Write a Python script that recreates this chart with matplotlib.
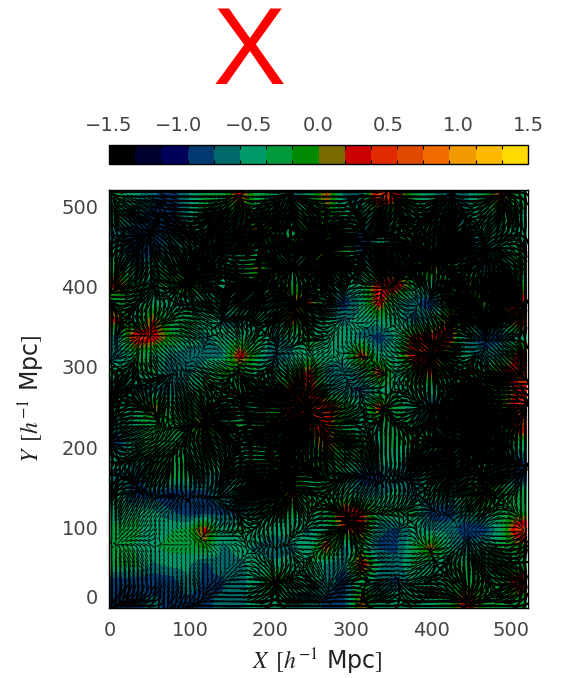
import numpy as np
import matplotlib
matplotlib.use("Agg")
import matplotlib.pyplot as plt
from matplotlib.collections import LineCollection
from matplotlib.colors import ListedColormap, BoundaryNorm

plt.rcParams['font.family'] = 'DejaVu Sans'
plt.rcParams['mathtext.fontset'] = 'stix'

W, H = 561, 678
BOX = 520

# field, tenths, top row first
field = [
    [-3,-5,-7,-9,-6,-3,-3, 3,-3,-4,-7,-4, 2,-6,-6, 6, 3,-3,-5,-8,-6,-3, 3,-3],
    [-3,-7,-8,-9,-6,-3,-2,-3,-3,-2,-3,-3,-1,-3,-6,-3,-4,-4,-3,-6,-6,-5,-3,-4],
    [-7,-8,-9,-7,-5,-5,-4,-3, 3,-2,-3, 1,-2,-2,-9,-5,-3,-2,-4,-3,-6,-5,-4,-5],
    [-5,-9,-9,-6,-5,-6,-8,-5,-4,-4,-1,-2, 2,-1,-9,-5,-3,-2,-3, 2,-5,-9,-5,-3],
    [-3,-6,-4,-3,-2,-3,-4,-4, 1,-3,-8,-6, 1,-3,-6,-3,-3,-3, 2,-2,-3,-7,-5,-3],
    [ 3,-3,-4,-3, 2,-3,-5,-5,-3,-2,-2,-3,-3,-5,-4, 4, 5,-3,-5,-3,-2,-1,-1,-2],
    [-3,-4,-4,-5,-5,-6,-5,-3,-2,-4, 1, 3,-6,-9,-5, 4,-5,-7,-9,-3, 2,-1, 1, 5],
    [ 3,-5, 2,-3,-2,-4,-6,-7,-5,-6, 3,-7,-5,-6,-5,-4,-4,-8,-5, 2,-1,-4,-5, 5],
    [-7, 5, 4,-1,-4,-6,-5,-4,-3,-6,-5,-2,-5,-5,-6,-9,-5, 3, 4, 4,-6,-9,-8,-5],
    [-7,-3,-4,-6,-7,-6,-6, 4,-3,-8,-6,-4,-5,-5, 3,-5,-4, 4, 4,-1,-5,-7,-6, 3],
    [-3,-4,-3,-7,-6,-5,-1,-3,-4,-5,-3, 3,-6,-7,-5, 3,-5,-1, 3,-3,-2,-3, 2, 5],
    [-6,-6,-7,-7,-5,-2,-3,-3,-3,-3, 4, 6,-5,-7,-8,-5,-4,-4,-5,-5,-3,-2,-2, 3],
    [-5,-4, 2,-3,-3,-3,-3,-6,-3,-2, 4, 5, 5,-1,-5, 3,-3,-5,-8,-5,-3,-1,-2, 5],
    [-6,-4,-3,-3,-2, 3,-2,-3,-3, 1, 2, 3, 3,-3,-5,-4,-3,-3,-3,-4,-1, 2,-2, 6],
    [-9,-4,-3,-3,-3,-4,-5,-5,-3,-3,-2,-2, 3,-2,-3,-4,-3,-3,-3,-2,-2,-2,-5,-3],
    [-4,-5,-3,-3,-3,-3,-4,-4,-3, 1,-2,-2,-1,-3,-4,-4,-5,-7,-4,-3,-3,-2,-5,-8],
    [-7,-8,-5,-3,-3,-6,-6,-5,-2,-2,-1,-3,-3,-5,-9,-9,-6,-7,-4,-3,-4,-2,-3,-9],
    [-4,-9,-8,-10,-9,-8,-6,-5,-4,-2, 3,-3,-2,-4,-6,-6,-5,-7,-4,-5,-3, 2,-3,-2],
    [-5,-4,-5,-7,-9,-9,-8,-8,-5,-3,-3,-4,-3, 4, 3,-3,-3,-3,-9,-9,-5,-4,-3,-2],
    [-3,-3,-5,-4,-3, 3,-5,-3,-4,-5,-5,-6,-4, 2, 3,-7,-8,-5,-6,-6,-9,-9,-4, 6],
    [-3,-4,-4,-3,-3,-1,-6,-5,-6,-7,-6,-5, 3,-6,-3,-8,-8,-3, 2,-5,-7,-5,-3,-1],
    [-3,-3,-6,-5,-5,-8,-6,-6,-5,-5,-5,-3,-6,-7, 5,-5,-7,-3,-5,-4,-3,-3,-2,-3],
    [-9,-9,-9,-9,-6,-8,-8,-6,-5, 3,-4,-5,-6,-9,-3,-7,-8,-5,-5,-3,-3,-3,-3, 5],
    [-9,-8,-7,-8,-8,-8,-7,-6,-5,-5,-6,-6,-8,-8, 2,-5,-4,-5,-4,-3, 4,-2,-3,-2],
]

# how black the streaks make each cell, 0 to 9
dark = [
    [6,6,6,7,7,7,6,6,6,7,7,7,6,7,7,5,7,7,7,7,7,7,7,7],
    [7,7,7,7,8,8,8,8,8,8,8,8,8,7,8,8,8,8,8,8,7,7,8,7],
    [7,7,7,7,8,8,8,8,8,8,8,8,9,9,7,8,8,8,8,8,8,7,7,7],
    [7,7,7,7,8,8,8,8,8,8,8,9,9,9,7,8,8,9,9,9,8,7,7,7],
    [7,7,7,7,9,8,8,8,8,8,7,8,9,9,8,9,9,9,9,8,8,7,8,7],
    [7,7,7,7,8,7,8,9,9,8,8,8,9,6,6,5,6,6,7,9,9,9,9,8],
    [7,7,6,6,7,7,8,8,8,8,8,8,7,4,4,5,6,4,4,8,9,9,9,8],
    [8,7,6,6,6,5,6,7,7,8,7,8,6,4,4,4,5,5,6,8,9,9,8,7],
    [5,5,4,4,6,5,5,5,6,6,6,7,5,4,4,3,4,7,8,8,6,5,5,7],
    [5,5,5,5,3,3,3,4,5,5,4,4,4,4,6,4,5,7,8,8,6,5,6,7],
    [7,7,7,5,5,6,6,6,7,7,6,7,5,4,6,6,5,7,8,8,8,8,8,7],
    [8,7,7,6,6,7,7,8,8,8,8,8,6,5,5,5,6,7,8,8,9,8,8,7],
    [8,7,7,7,7,8,8,8,8,8,8,8,7,6,6,6,7,6,7,8,9,9,9,7],
    [7,6,6,6,7,8,8,8,9,9,9,8,7,7,7,7,7,7,8,9,9,9,9,7],
    [7,6,6,6,7,8,8,8,9,9,9,8,7,7,7,7,7,8,8,9,9,9,9,8],
    [7,7,7,7,7,7,7,8,9,9,9,9,8,7,7,7,7,8,8,8,9,9,8,7],
    [7,7,7,7,7,7,7,8,8,9,9,8,7,7,6,7,7,7,7,8,8,8,8,6],
    [7,6,6,6,6,6,7,7,8,8,8,7,7,6,5,5,6,6,7,7,7,8,7,6],
    [6,5,4,4,4,4,5,7,7,7,7,6,7,8,7,6,6,6,5,5,6,7,6,5],
    [4,4,4,3,3,5,5,6,6,6,6,5,7,8,7,4,4,5,4,3,3,3,3,4],
    [4,4,4,3,3,4,3,4,5,5,5,4,6,6,6,4,3,4,5,5,6,6,7,7],
    [5,5,4,3,3,4,3,4,5,6,6,6,4,4,7,5,4,5,6,7,7,7,7,7],
    [7,6,5,4,5,5,5,5,6,7,7,7,5,6,7,6,5,6,7,7,7,7,7,7],
    [7,7,6,6,6,6,6,6,7,7,7,7,6,7,7,7,7,7,7,7,7,7,7,7],
]

bar_colors = ['#000000', '#00002e', '#00005a', '#003a70', '#006a6a', '#009a6a',
              '#009a3a', '#008a00', '#7a6a00', '#ca0000', '#e02a00', '#e04a00',
              '#f06a00', '#f09a00', '#ffba00', '#ffda00']
bar_ticks = [-1.5, -1.0, -0.5, 0.0, 0.5, 1.0, 1.5]
axis_ticks = [0, 100, 200, 300, 400, 500]


def blur(a):
    k = np.array([1, 2, 1]) / 4.0
    a = np.apply_along_axis(lambda r: np.convolve(np.pad(r, 1, mode='edge'), k, 'valid'), 0, a)
    a = np.apply_along_axis(lambda r: np.convolve(np.pad(r, 1, mode='edge'), k, 'valid'), 1, a)
    return a


# the arrows sit 4x finer than the cells that were read
def refine(a):
    return blur(blur(blur(np.kron(a, np.ones((4, 4))))))


F0 = np.array(field, dtype=float)[::-1] / 10.0
D0 = np.array(dark, dtype=float)[::-1]
F = np.pad(F0, 1, mode='edge')

cmap = ListedColormap(bar_colors)
bounds = np.linspace(-1.5, 1.5, len(bar_colors) + 1)
norm = BoundaryNorm(bounds, cmap.N)

fig = plt.figure(figsize=(W / 100, H / 100), dpi=100)

ax = fig.add_axes([109 / W, 1 - 608 / H, 419 / W, 418 / H])
cell = BOX / 24
im = ax.imshow(F, origin='lower', extent=[-cell, BOX + cell, -cell, BOX + cell], cmap=cmap,
               norm=norm, interpolation='bilinear', interpolation_stage='data')

# straight black arrows along the slope of the field; long and fat where it is black
vy, vx = np.gradient(refine(blur(F0)))
speed = np.hypot(vx, vy) + 1e-6
vx, vy = vx / speed, vy / speed
dk = refine(D0)
n = dk.shape[0]
xs, ys = np.meshgrid((np.arange(n) + 0.5) * BOX / n, (np.arange(n) + 0.5) * BOX / n)
half = (4 + 3.5 * np.clip(dk - 3, 0, None)) / 2 * BOX / 419
start = np.stack([xs - half * vx, ys - half * vy], axis=-1).reshape(-1, 2)
stop = np.stack([xs + half * vx, ys + half * vy], axis=-1).reshape(-1, 2)
segs = np.stack([start, stop], axis=1)
px = 0.9 + 0.045 * np.clip(dk - 3, 0, None) ** 2
ax.add_collection(LineCollection(segs, colors='k', linewidths=px.ravel() * 0.72,
                                 capstyle='butt'))

ax.set_xlim(0, BOX)
ax.set_ylim(0, BOX)
ax.set_xticks(axis_ticks)
ax.set_yticks(axis_ticks)
ax.tick_params(length=0, labelsize=14, labelcolor='#444444', pad=9)
ax.tick_params(axis='y', pad=8)
ax.get_yticklabels()[0].set_verticalalignment('bottom')
for s in ax.spines.values():
    s.set_linewidth(1.0)

fig.text(317 / W, 1 - 662 / H, r'$X\ \,[h^{-1}$ Mpc$]$', fontsize=17, color='#222222',
         ha='center', va='center')
fig.text(32 / W, 1 - 399 / H, r'$Y\ \,[h^{-1}$ Mpc$]$', fontsize=17, color='#222222',
         ha='center', va='center', rotation=90)

cax = fig.add_axes([109 / W, 1 - 164 / H, 419 / W, 19 / H])
cb = fig.colorbar(im, cax=cax, orientation='horizontal', spacing='proportional')
cb.set_ticks(bar_ticks)
cb.set_ticklabels(['\u22121.5', '\u22121.0', '\u22120.5', '0.0', '0.5', '1.0', '1.5'])
cax.xaxis.set_ticks_position('top')
cax.tick_params(axis='x', which='major', length=0, labelsize=14, labelcolor='#444444', pad=7)
cax.xaxis.set_ticks(bounds, minor=True)
cax.tick_params(axis='x', which='minor', direction='in', length=3, width=0.8, color='k',
                top=True, bottom=True)
cb.outline.set_linewidth(1.0)

fig.text(249 / W, 1 - 84 / H, 'X', color='#ff0000', fontsize=79, family='Liberation Sans',
         ha='center', va='baseline')

fig.savefig('out.png', dpi=100)
